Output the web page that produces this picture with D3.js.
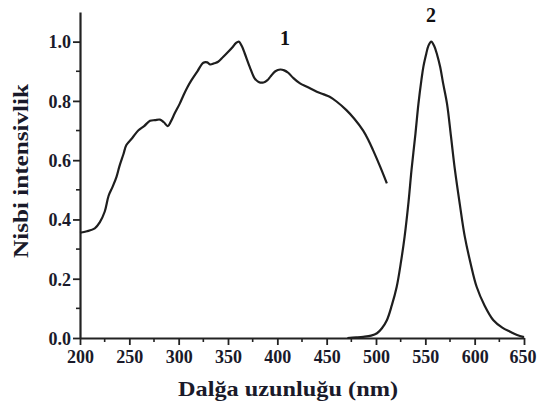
<!DOCTYPE html>
<html><head><meta charset="utf-8">
<script src="https://cdn.jsdelivr.net/npm/d3@7"></script>
<style>body{margin:0;background:#fff}svg{display:block}</style>
</head><body>
<script>
const wl1 = [200,207,215,220,225,229,233,237,240,244,247,253,259,265,271,276,281,285,289,292,296,301,305,309,313,319,325,329,332,336,340,345,350,355,358,361,364,367,372,377,381,386,390,393,398,403,407,411,416,423,430,440,447,453,460,470,478,487,492,497,504,511];
const int1 = [0.355,0.36,0.37,0.39,0.426,0.48,0.51,0.544,0.58,0.62,0.651,0.675,0.70,0.715,0.733,0.735,0.737,0.728,0.715,0.73,0.758,0.79,0.82,0.847,0.87,0.90,0.929,0.93,0.923,0.927,0.932,0.948,0.965,0.983,0.995,1.0,0.985,0.96,0.915,0.876,0.864,0.862,0.87,0.882,0.90,0.906,0.903,0.895,0.878,0.859,0.848,0.831,0.822,0.814,0.798,0.769,0.74,0.70,0.67,0.634,0.58,0.522];
const wl2 = [471,480,487,495,501,506,511,516,521,525,529,533,536,540,543,546,548,551,553,556,559,562,565,568,572,576,580,585,590,596,602,610,619,628,636,643,650];
const int2 = [0,0.002,0.004,0.008,0.016,0.033,0.06,0.11,0.173,0.25,0.342,0.46,0.567,0.69,0.79,0.87,0.915,0.96,0.985,1.0,0.985,0.955,0.915,0.86,0.79,0.68,0.567,0.45,0.342,0.25,0.173,0.11,0.06,0.035,0.021,0.01,0.003];
const xTicks = [200,250,300,350,400,450,500,550,600,650];
const yTicks = [0.0,0.2,0.4,0.6,0.8,1.0];
const seriesLabels = ["1","2"];

const W = 537, H = 401;
const svg = d3.select("body").append("svg").attr("width", W).attr("height", H);
const x = d3.scaleLinear().domain([200,650]).range([80,524]);
const y = d3.scaleLinear().domain([0,1.1]).range([338,12]);
const font = "'Liberation Serif','Times New Roman',serif";
const txtCol = "#1a1a2a";

const minorX = d3.range(225,650,50);
const minorY = d3.range(0.1,1.0,0.2);
svg.append("g").selectAll("line").data(minorX).join("line")
  .attr("x1", d=>x(d)).attr("x2", d=>x(d)).attr("y1",338).attr("y2",342)
  .attr("stroke","#222").attr("stroke-width",1.6);
svg.append("g").selectAll("line").data(minorY).join("line")
  .attr("y1", d=>y(d)).attr("y2", d=>y(d)).attr("x1",76).attr("x2",80)
  .attr("stroke","#222").attr("stroke-width",1.6);

const xAxis = svg.append("g").attr("transform","translate(0,338)")
  .call(d3.axisBottom(x).tickValues(xTicks).tickSize(7).tickSizeOuter(0).tickFormat(d3.format("d")));
const yAxis = svg.append("g").attr("transform","translate(80,0)")
  .call(d3.axisLeft(y).tickValues(yTicks).tickSize(7).tickSizeOuter(0).tickFormat(d3.format(".1f")));
[xAxis,yAxis].forEach(g=>{
  g.select(".domain").attr("stroke","#222").attr("stroke-width",2.2);
  g.selectAll(".tick line").attr("stroke","#222").attr("stroke-width",1.8);
  g.selectAll("text").attr("font-family",font).attr("font-weight","bold")
    .attr("font-size",18).attr("fill",txtCol);
});
xAxis.selectAll("text").attr("dy","0.71em").attr("y",12);
xAxis.selectAll(".tick").filter(d=>d===650).select("text").attr("text-anchor","end").attr("x",12);
yAxis.selectAll("text").attr("x",-9).attr("dy","0.35em");

const line = d3.line().x(d=>x(d[0])).y(d=>y(d[1])).curve(d3.curveCatmullRom.alpha(0.5));
svg.append("path").datum(wl1.map((w,i)=>[w,int1[i]])).attr("d",line)
  .attr("fill","none").attr("stroke","#1e1e1e").attr("stroke-width",2.2).attr("stroke-linejoin","round");
svg.append("path").datum(wl2.map((w,i)=>[w,int2[i]])).attr("d",line)
  .attr("fill","none").attr("stroke","#1e1e1e").attr("stroke-width",2.2).attr("stroke-linejoin","round");

svg.append("text").attr("x",285).attr("y",45).attr("text-anchor","middle")
  .attr("font-family",font).attr("font-weight","bold").attr("font-size",20).attr("fill","#111").text(seriesLabels[0]);
svg.append("text").attr("x",431).attr("y",22).attr("text-anchor","middle")
  .attr("font-family",font).attr("font-weight","bold").attr("font-size",20).attr("fill","#111").text(seriesLabels[1]);

svg.append("text").attr("x",288).attr("y",396).attr("text-anchor","middle")
  .attr("font-family",font).attr("font-weight","bold").attr("font-size",21).attr("fill",txtCol)
  .attr("textLength",220).attr("lengthAdjust","spacingAndGlyphs")
  .text("Dalğa uzunluğu (nm)");
svg.append("text").attr("transform","translate(28,171) rotate(-90)").attr("text-anchor","middle")
  .attr("font-family",font).attr("font-weight","bold").attr("font-size",20).attr("fill",txtCol)
  .attr("textLength",174).attr("lengthAdjust","spacingAndGlyphs")
  .text("Nisbi intensivlik");
</script>
</body></html>
